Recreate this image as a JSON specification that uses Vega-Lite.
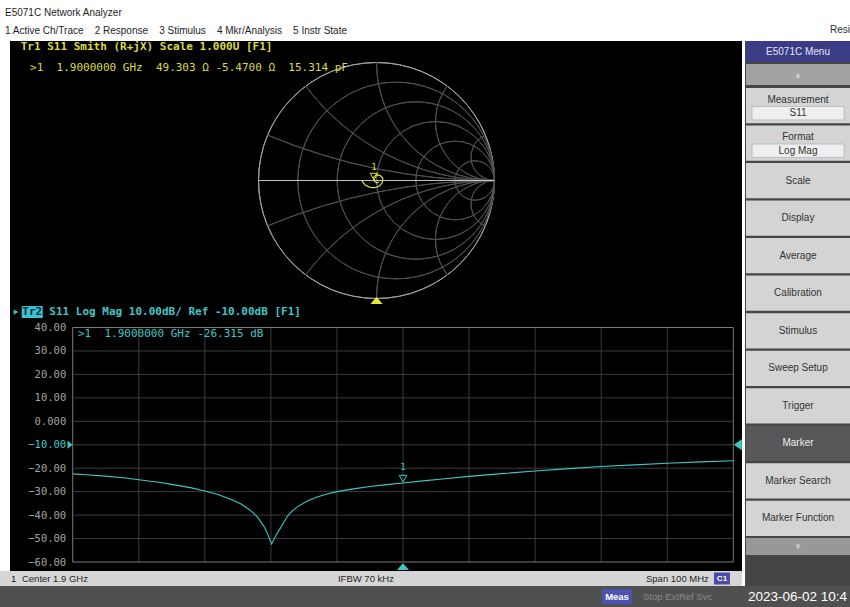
{
  "$schema": "https://vega.github.io/schema/vega-lite/v6.json",
  "width": 732,
  "height": 530,
  "autosize": {"type": "none"},
  "padding": {"left": 10, "top": 41, "right": 108, "bottom": 36},
  "background": "#ffffff",
  "config": {"view": {"fill": "#000000", "stroke": null}, "text": {"font": "DejaVu Sans Mono"}},
  "title": {
    "text": "E5071C Network Analyzer",
    "subtitle": "1 Active Ch/Trace\u00a0\u00a0\u00a0 2 Response\u00a0\u00a0\u00a0 3 Stimulus\u00a0\u00a0\u00a0 4 Mkr/Analysis\u00a0\u00a0\u00a0 5 Instr State",
    "anchor": "start",
    "frame": "group",
    "dx": -5,
    "dy": 17,
    "offset": 6,
    "font": "Liberation Sans",
    "fontSize": 10,
    "fontWeight": "normal",
    "color": "#1e1e1e",
    "subtitleFont": "Liberation Sans",
    "subtitleFontSize": 10,
    "subtitleColor": "#1e1e1e",
    "subtitlePadding": 8
  },
  "datasets": {
    "s11LogMag": [
      {"f": 1.850, "db": -22.4}, {"f": 1.852, "db": -22.8}, {"f": 1.855, "db": -23.4}, {"f": 1.858, "db": -24.2},
      {"f": 1.860, "db": -24.9}, {"f": 1.863, "db": -26.0}, {"f": 1.865, "db": -26.9}, {"f": 1.868, "db": -28.4},
      {"f": 1.870, "db": -29.7}, {"f": 1.872, "db": -31.2}, {"f": 1.874, "db": -33.3}, {"f": 1.8755, "db": -35.3},
      {"f": 1.877, "db": -38.2}, {"f": 1.878, "db": -41.0}, {"f": 1.879, "db": -45.0}, {"f": 1.8795, "db": -48.0},
      {"f": 1.8801, "db": -52.3}, {"f": 1.8807, "db": -49.0}, {"f": 1.8813, "db": -46.2}, {"f": 1.882, "db": -42.8},
      {"f": 1.8825, "db": -40.5}, {"f": 1.8832, "db": -38.3}, {"f": 1.884, "db": -36.5}, {"f": 1.8855, "db": -34.0},
      {"f": 1.887, "db": -32.3}, {"f": 1.8885, "db": -31.0}, {"f": 1.890, "db": -30.0}, {"f": 1.8925, "db": -28.8},
      {"f": 1.895, "db": -27.8}, {"f": 1.8975, "db": -27.0}, {"f": 1.900, "db": -26.3}, {"f": 1.903, "db": -25.4},
      {"f": 1.906, "db": -24.6}, {"f": 1.910, "db": -23.5}, {"f": 1.915, "db": -22.3}, {"f": 1.920, "db": -21.2},
      {"f": 1.925, "db": -20.2}, {"f": 1.930, "db": -19.3}, {"f": 1.935, "db": -18.6}, {"f": 1.940, "db": -17.9},
      {"f": 1.945, "db": -17.3}, {"f": 1.950, "db": -16.8}
    ],
    "freqDivisions": [
      {"f": 1.85}, {"f": 1.86}, {"f": 1.87}, {"f": 1.88}, {"f": 1.89}, {"f": 1.90},
      {"f": 1.91}, {"f": 1.92}, {"f": 1.93}, {"f": 1.94}, {"f": 1.95}
    ],
    "dbDivisions": [
      {"db": 40}, {"db": 30}, {"db": 20}, {"db": 10}, {"db": 0}, {"db": -10},
      {"db": -20}, {"db": -30}, {"db": -40}, {"db": -50}, {"db": -60}
    ],
    "marker1": [{"marker": "1", "f": 1.9, "db": -26.315, "gx": -0.021, "gy": -0.004}],
    "refLevel": [{"db": -10}],
    "trace2": [{"trace": "Tr2", "title": "S11 Log Mag 10.00dB/ Ref -10.00dB [F1]", "readout": ">1\u00a0\u00a01.9000000 GHz -26.315 dB"}],
    "trace1": [{"title": "Tr1 S11 Smith (R+jX) Scale 1.000U [F1]", "readout": ">1\u00a0\u00a01.9000000 GHz\u00a0\u00a049.303 \u03a9 -5.4700 \u03a9\u00a0\u00a015.314 pF"}],
    "smithGrid": [
      {"curve": "boundary", "value": 0, "cx": 0, "cy": 0, "r": 1, "t0": 0, "t1": 360},
      {"curve": "resistance", "value": 0.2, "cx": 0.16667, "cy": 0, "r": 0.83333, "t0": 0, "t1": 360},
      {"curve": "resistance", "value": 0.5, "cx": 0.33333, "cy": 0, "r": 0.66667, "t0": 0, "t1": 360},
      {"curve": "resistance", "value": 1, "cx": 0.5, "cy": 0, "r": 0.5, "t0": 0, "t1": 360},
      {"curve": "resistance", "value": 2, "cx": 0.66667, "cy": 0, "r": 0.33333, "t0": 0, "t1": 360},
      {"curve": "resistance", "value": 5, "cx": 0.83333, "cy": 0, "r": 0.16667, "t0": 0, "t1": 360},
      {"curve": "reactance", "value": 0.2, "cx": 1, "cy": 5, "r": 5, "t0": 180, "t1": 202.62},
      {"curve": "reactance", "value": 0.5, "cx": 1, "cy": 2, "r": 2, "t0": 180, "t1": 233.13},
      {"curve": "reactance", "value": 1, "cx": 1, "cy": 1, "r": 1, "t0": 180, "t1": 270},
      {"curve": "reactance", "value": 2, "cx": 1, "cy": 0.5, "r": 0.5, "t0": 180, "t1": 306.87},
      {"curve": "reactance", "value": 5, "cx": 1, "cy": 0.2, "r": 0.2, "t0": 180, "t1": 337.38},
      {"curve": "reactance", "value": -0.2, "cx": 1, "cy": -5, "r": 5, "t0": 337.38, "t1": 360},
      {"curve": "reactance", "value": -0.5, "cx": 1, "cy": -2, "r": 2, "t0": 306.87, "t1": 360},
      {"curve": "reactance", "value": -1, "cx": 1, "cy": -1, "r": 1, "t0": 270, "t1": 360},
      {"curve": "reactance", "value": -2, "cx": 1, "cy": -0.5, "r": 0.5, "t0": 233.13, "t1": 360},
      {"curve": "reactance", "value": -5, "cx": 1, "cy": -0.2, "r": 0.2, "t0": 202.62, "t1": 360}
    ],
    "smithTrace": [
      {"f": 1.850, "gx": 0.021, "gy": -0.013},
      {"f": 1.870, "gx": 0.002, "gy": -0.019},
      {"f": 1.900, "gx": -0.021, "gy": -0.004},
      {"f": 1.905, "gx": -0.027, "gy": 0.024},
      {"f": 1.910, "gx": -0.004, "gy": 0.047},
      {"f": 1.915, "gx": 0.030, "gy": 0.044},
      {"f": 1.920, "gx": 0.053, "gy": 0.019},
      {"f": 1.925, "gx": 0.049, "gy": -0.019},
      {"f": 1.930, "gx": 0.024, "gy": -0.047},
      {"f": 1.935, "gx": -0.013, "gy": -0.061},
      {"f": 1.940, "gx": -0.055, "gy": -0.058},
      {"f": 1.945, "gx": -0.097, "gy": -0.038},
      {"f": 1.950, "gx": -0.125, "gy": -0.002}
    ],
    "menuButtons": [
      {"button": "Measurement", "setting": "S11"},
      {"button": "Format", "setting": "Log Mag"},
      {"button": "Scale"},
      {"button": "Display"},
      {"button": "Average"},
      {"button": "Calibration"},
      {"button": "Stimulus"},
      {"button": "Sweep Setup"},
      {"button": "Trigger"},
      {"button": "Marker"},
      {"button": "Marker Search"},
      {"button": "Marker Function"}
    ]
  },
  "layer": [
    {
      "layer": [
        {
          "data": {"name": "freqDivisions"},
          "mark": {"type": "rule", "strokeWidth": 1},
          "encoding": {
            "x": {"field": "f", "type": "quantitative", "scale": {"domain": [1.85, 1.95], "range": [62.7, 723.3], "nice": false, "zero": false}, "axis": null},
            "y": {"datum": -60, "type": "quantitative", "scale": {"domain": [-60, 40], "range": [521, 286.5], "nice": false, "zero": false}},
            "y2": {"datum": 40},
            "color": {"condition": {"test": "datum.f == 1.85 || datum.f == 1.95", "value": "#7a7a7a"}, "value": "#3c3c3c"}
          }
        },
        {
          "data": {"name": "dbDivisions"},
          "mark": {"type": "rule", "strokeWidth": 1},
          "encoding": {
            "y": {
              "field": "db", "type": "quantitative",
              "scale": {"domain": [-60, 40], "range": [521, 286.5], "nice": false, "zero": false},
              "axis": {
                "orient": "left", "offset": -62.7, "title": null,
                "values": [40, 30, 20, 10, 0, -10, -20, -30, -40, -50, -60],
                "labelExpr": "datum.value == 0 ? '0.000' : format(datum.value, '.2f')",
                "labelFont": "DejaVu Sans Mono", "labelFontSize": 10.5,
                "labelColor": {"condition": {"test": "datum.value == -10", "value": "#3cc8c8"}, "value": "#a4a4a4"},
                "labelPadding": 7, "ticks": false, "domain": false, "grid": false,
                "labelBound": false, "labelOverlap": false, "labelFlush": false
              }
            },
            "x": {"datum": 1.85, "type": "quantitative", "scale": {"domain": [1.85, 1.95], "range": [62.7, 723.3], "nice": false, "zero": false}},
            "x2": {"datum": 1.95},
            "color": {"condition": {"test": "datum.db == 40 || datum.db == -60", "value": "#7a7a7a"}, "value": "#3c3c3c"}
          }
        },
        {
          "data": {"name": "s11LogMag"},
          "mark": {"type": "line", "color": "#3cc8c8", "strokeWidth": 1.1},
          "encoding": {
            "x": {"field": "f", "type": "quantitative", "scale": {"domain": [1.85, 1.95], "range": [62.7, 723.3], "nice": false, "zero": false}},
            "y": {"field": "db", "type": "quantitative", "scale": {"domain": [-60, 40], "range": [521, 286.5], "nice": false, "zero": false}}
          }
        },
        {
          "data": {"name": "marker1"},
          "mark": {"type": "point", "shape": "M0,-0.15L-0.55,-1.1L0.55,-1.1Z", "size": 196, "filled": false, "stroke": "#3cc8c8", "strokeWidth": 1, "opacity": 1},
          "encoding": {
            "x": {"field": "f", "type": "quantitative"},
            "y": {"field": "db", "type": "quantitative"}
          }
        },
        {
          "data": {"name": "marker1"},
          "mark": {"type": "text", "dy": -16, "color": "#3cc8c8", "fontSize": 9, "font": "DejaVu Sans Mono"},
          "encoding": {
            "x": {"field": "f", "type": "quantitative"},
            "y": {"field": "db", "type": "quantitative"},
            "text": {"field": "marker"}
          }
        },
        {
          "data": {"name": "marker1"},
          "mark": {"type": "point", "shape": "M0,0.2L-1,1.35L1,1.35Z", "size": 144, "filled": true, "fill": "#3cc8c8", "stroke": null, "opacity": 1},
          "encoding": {
            "x": {"field": "f", "type": "quantitative"},
            "y": {"datum": -60, "type": "quantitative"}
          }
        },
        {
          "data": {"name": "refLevel"},
          "mark": {"type": "point", "shape": "M0,0L-1.3,-1L-1.3,1Z", "size": 64, "filled": true, "fill": "#3cc8c8", "stroke": null, "opacity": 1},
          "encoding": {
            "x": {"datum": 1.85, "type": "quantitative"},
            "y": {"field": "db", "type": "quantitative"}
          }
        },
        {
          "data": {"name": "refLevel"},
          "mark": {"type": "point", "shape": "M0.1,0L1.7,-1.1L1.7,1.1Z", "size": 100, "filled": true, "fill": "#3cc8c8", "stroke": null, "opacity": 1},
          "encoding": {
            "x": {"datum": 1.95, "type": "quantitative"},
            "y": {"field": "db", "type": "quantitative"}
          }
        },
        {
          "data": {"name": "trace2"},
          "mark": {"type": "point", "shape": "triangle-right", "size": 28, "filled": true, "fill": "#3cc8c8", "stroke": null, "opacity": 1},
          "encoding": {
            "x": {"datum": 1.84141, "type": "quantitative"},
            "y": {"datum": 46.6, "type": "quantitative"}
          }
        },
        {
          "data": {"name": "trace2"},
          "mark": {"type": "point", "shape": "M-1,-0.57H1V0.57H-1Z", "size": 441, "filled": true, "fill": "#36c6d6", "stroke": null, "opacity": 1},
          "encoding": {
            "x": {"datum": 1.84387, "type": "quantitative"},
            "y": {"datum": 46.6, "type": "quantitative"}
          }
        },
        {
          "data": {"name": "trace2"},
          "mark": {"type": "text", "color": "#04282c", "fontSize": 11, "fontWeight": "bold", "font": "DejaVu Sans Mono"},
          "encoding": {
            "x": {"datum": 1.84387, "type": "quantitative"},
            "y": {"datum": 46.6, "type": "quantitative"},
            "text": {"field": "trace"}
          }
        },
        {
          "data": {"name": "trace2"},
          "mark": {"type": "text", "align": "left", "color": "#3cc8c8", "fontSize": 11, "fontWeight": "bold", "font": "DejaVu Sans Mono"},
          "encoding": {
            "x": {"datum": 1.84646, "type": "quantitative"},
            "y": {"datum": 46.6, "type": "quantitative"},
            "text": {"field": "title"}
          }
        },
        {
          "data": {"name": "trace2"},
          "mark": {"type": "text", "align": "left", "color": "#3cc8c8", "fontSize": 11, "font": "DejaVu Sans Mono"},
          "encoding": {
            "x": {"datum": 1.8508, "type": "quantitative"},
            "y": {"datum": 37.2, "type": "quantitative"},
            "text": {"field": "readout"}
          }
        }
      ]
    },
    {
      "layer": [
        {
          "data": {"name": "smithGrid"},
          "mark": {"type": "arc", "filled": false, "strokeWidth": 1},
          "encoding": {
            "x": {"field": "cx", "type": "quantitative", "scale": {"domain": [-1, 1], "range": [248.5, 484.5], "nice": false, "zero": false}, "axis": null},
            "y": {"field": "cy", "type": "quantitative", "scale": {"domain": [-1, 1], "range": [257.5, 21.5], "nice": false, "zero": false}, "axis": null},
            "theta": {"field": "t0", "type": "quantitative", "stack": null, "scale": {"type": "linear", "domain": [0, 360], "range": [0, 6.283185307179586]}},
            "theta2": {"field": "t1"},
            "radius": {"field": "r", "type": "quantitative", "scale": {"type": "linear", "domain": [0, 1], "range": [0, 118], "zero": true}},
            "radius2": {"field": "r"},
            "color": {"condition": {"test": "datum.curve == 'boundary'", "value": "#a2a2a2"}, "value": "#505050"}
          }
        },
        {
          "data": {"values": [{}]},
          "mark": {"type": "rule", "color": "#c4c4c4", "strokeWidth": 1},
          "encoding": {
            "x": {"datum": -1, "type": "quantitative"},
            "x2": {"datum": 1},
            "y": {"datum": 0, "type": "quantitative"}
          }
        },
        {
          "data": {"name": "smithTrace"},
          "mark": {"type": "line", "color": "#dcdc3c", "strokeWidth": 1.2},
          "encoding": {
            "x": {"field": "gx", "type": "quantitative"},
            "y": {"field": "gy", "type": "quantitative"},
            "order": {"field": "f"}
          }
        },
        {
          "data": {"name": "marker1"},
          "mark": {"type": "point", "shape": "M0,-0.15L-0.55,-1.1L0.55,-1.1Z", "size": 196, "filled": false, "stroke": "#dcdc3c", "strokeWidth": 1, "opacity": 1},
          "encoding": {
            "x": {"field": "gx", "type": "quantitative"},
            "y": {"field": "gy", "type": "quantitative"}
          }
        },
        {
          "data": {"name": "marker1"},
          "mark": {"type": "text", "dy": -14, "color": "#dcdc3c", "fontSize": 9, "font": "DejaVu Sans Mono"},
          "encoding": {
            "x": {"field": "gx", "type": "quantitative"},
            "y": {"field": "gy", "type": "quantitative"},
            "text": {"field": "marker"}
          }
        },
        {
          "data": {"name": "marker1"},
          "mark": {"type": "point", "shape": "M0,-0.3L-1,0.9L1,0.9Z", "size": 144, "filled": true, "fill": "#e6e63a", "stroke": null, "opacity": 1},
          "encoding": {
            "x": {"datum": 0, "type": "quantitative"},
            "y": {"datum": -1, "type": "quantitative"}
          }
        },
        {
          "data": {"name": "trace1"},
          "mark": {"type": "text", "align": "left", "color": "#dcdc3c", "fontSize": 11, "fontWeight": "bold", "font": "DejaVu Sans Mono"},
          "encoding": {
            "x": {"datum": -3.015, "type": "quantitative"},
            "y": {"datum": 1.131, "type": "quantitative"},
            "text": {"field": "title"}
          }
        },
        {
          "data": {"name": "trace1"},
          "mark": {"type": "text", "align": "left", "color": "#dcdc3c", "fontSize": 11, "font": "DejaVu Sans Mono"},
          "encoding": {
            "x": {"datum": -2.936, "type": "quantitative"},
            "y": {"datum": 0.953, "type": "quantitative"},
            "text": {"field": "readout"}
          }
        }
      ]
    },
    {
      "data": {"values": [{}]},
      "mark": {"type": "rect", "fill": "#454545"},
      "encoding": {
        "x": {"datum": "menu", "type": "nominal", "scale": {"type": "band", "domain": ["menu"], "range": [735, 840], "paddingInner": 0, "paddingOuter": 0}, "axis": null},
        "y": {"datum": "menu", "type": "nominal", "scale": {"type": "band", "domain": ["menu"], "range": [0, 545], "paddingInner": 0, "paddingOuter": 0}, "axis": null}
      }
    },
    {
      "data": {"values": [{"menu": "E5071C Menu", "window": "Resi"}]},
      "layer": [
        {
          "mark": {"type": "rect", "fill": "#3c3c86"},
          "encoding": {
            "x": {"field": "menu", "type": "nominal", "scale": {"type": "band", "range": [736, 840], "paddingInner": 0, "paddingOuter": 0}, "axis": null},
            "y": {"field": "menu", "type": "nominal", "scale": {"type": "band", "range": [0, 21], "paddingInner": 0, "paddingOuter": 0}, "axis": null}
          }
        },
        {
          "mark": {"type": "text", "color": "#e4e4ff", "font": "Liberation Sans", "fontSize": 10},
          "encoding": {
            "x": {"field": "menu", "type": "nominal"},
            "y": {"field": "menu", "type": "nominal"},
            "text": {"field": "menu"}
          }
        },
        {
          "mark": {"type": "text", "align": "right", "dy": -22, "color": "#303030", "font": "Liberation Sans", "fontSize": 10},
          "encoding": {
            "x": {"field": "menu", "type": "nominal", "bandPosition": 1},
            "y": {"field": "menu", "type": "nominal"},
            "text": {"field": "window"}
          }
        }
      ]
    },
    {
      "data": {"values": [{"arrow": "\u25b2"}]},
      "layer": [
        {
          "mark": {"type": "rect", "fill": "#a2a2a2"},
          "encoding": {
            "x": {"datum": "menu", "type": "nominal", "scale": {"type": "band", "domain": ["menu"], "range": [736, 840], "paddingInner": 0, "paddingOuter": 0}, "axis": null},
            "y": {"field": "arrow", "type": "nominal", "scale": {"type": "band", "range": [23, 44], "paddingInner": 0, "paddingOuter": 0}, "axis": null}
          }
        },
        {
          "mark": {"type": "text", "color": "#cdcdcd", "font": "DejaVu Sans", "fontSize": 7},
          "encoding": {
            "x": {"datum": "menu", "type": "nominal"},
            "y": {"field": "arrow", "type": "nominal"},
            "text": {"field": "arrow"}
          }
        }
      ]
    },
    {
      "data": {"name": "menuButtons"},
      "layer": [
        {
          "mark": {"type": "rect"},
          "encoding": {
            "x": {"datum": "menu", "type": "nominal", "scale": {"type": "band", "domain": ["menu"], "range": [736, 840], "paddingInner": 0, "paddingOuter": 0}, "axis": null},
            "y": {"field": "button", "type": "nominal", "scale": {"type": "band", "domain": ["Measurement", "Format", "Scale", "Display", "Average", "Calibration", "Stimulus", "Sweep Setup", "Trigger", "Marker", "Marker Search", "Marker Function"], "range": [47, 495], "paddingInner": 0.06, "paddingOuter": 0}, "axis": null},
            "color": {"condition": {"test": "datum.button == 'Marker'", "value": "#575757"}, "value": "#d4d4d4"}
          }
        },
        {
          "transform": [{"filter": "isValid(datum.setting)"}],
          "mark": {"type": "point", "shape": "M-1,0.02H1V0.31H-1Z", "size": 8464, "filled": true, "fill": "#efefef", "stroke": "#a6a6a6", "strokeWidth": 0.6, "opacity": 1},
          "encoding": {
            "x": {"datum": "menu", "type": "nominal"},
            "y": {"field": "button", "type": "nominal"}
          }
        },
        {
          "transform": [{"filter": "isValid(datum.setting)"}],
          "mark": {"type": "text", "dy": -6, "font": "Liberation Sans", "fontSize": 10, "color": "#333333"},
          "encoding": {
            "x": {"datum": "menu", "type": "nominal"},
            "y": {"field": "button", "type": "nominal"},
            "text": {"field": "button"}
          }
        },
        {
          "transform": [{"filter": "isValid(datum.setting)"}],
          "mark": {"type": "text", "dy": 7.5, "font": "Liberation Sans", "fontSize": 10, "color": "#333333"},
          "encoding": {
            "x": {"datum": "menu", "type": "nominal"},
            "y": {"field": "button", "type": "nominal"},
            "text": {"field": "setting"}
          }
        },
        {
          "transform": [{"filter": "!isValid(datum.setting)"}],
          "mark": {"type": "text", "font": "Liberation Sans", "fontSize": 10},
          "encoding": {
            "x": {"datum": "menu", "type": "nominal"},
            "y": {"field": "button", "type": "nominal"},
            "text": {"field": "button"},
            "color": {"condition": {"test": "datum.button == 'Marker'", "value": "#eeeeee"}, "value": "#333333"}
          }
        }
      ]
    },
    {
      "data": {"values": [{"arrow": "\u25bc"}]},
      "layer": [
        {
          "mark": {"type": "rect", "fill": "#989898"},
          "encoding": {
            "x": {"datum": "menu", "type": "nominal", "scale": {"type": "band", "domain": ["menu"], "range": [736, 840], "paddingInner": 0, "paddingOuter": 0}, "axis": null},
            "y": {"field": "arrow", "type": "nominal", "scale": {"type": "band", "range": [497, 514], "paddingInner": 0, "paddingOuter": 0}, "axis": null}
          }
        },
        {
          "mark": {"type": "text", "color": "#c4c4c4", "font": "DejaVu Sans", "fontSize": 7},
          "encoding": {
            "x": {"datum": "menu", "type": "nominal"},
            "y": {"field": "arrow", "type": "nominal"},
            "text": {"field": "arrow"}
          }
        }
      ]
    },
    {
      "layer": [
        {
          "data": {"values": [{}]},
          "mark": {"type": "rect", "fill": "#d6d6d6"},
          "encoding": {
            "x": {"datum": "status", "type": "nominal", "scale": {"type": "band", "domain": ["status"], "range": [-10, 732], "paddingInner": 0, "paddingOuter": 0}, "axis": null},
            "y": {"datum": "status", "type": "nominal", "scale": {"type": "band", "domain": ["status"], "range": [530, 545], "paddingInner": 0, "paddingOuter": 0}, "axis": null}
          }
        },
        {
          "data": {"values": [{"label": "1"}]},
          "mark": {"type": "text", "align": "left", "font": "Liberation Sans", "fontSize": 9.5, "color": "#1e1e1e"},
          "encoding": {
            "x": {"datum": "status", "type": "nominal", "bandPosition": 0.0148},
            "y": {"datum": "status", "type": "nominal"},
            "text": {"field": "label"}
          }
        },
        {
          "data": {"values": [{"label": "Center 1.9 GHz"}]},
          "mark": {"type": "text", "align": "left", "font": "Liberation Sans", "fontSize": 9.5, "color": "#1e1e1e"},
          "encoding": {
            "x": {"datum": "status", "type": "nominal", "bandPosition": 0.0296},
            "y": {"datum": "status", "type": "nominal"},
            "text": {"field": "label"}
          }
        },
        {
          "data": {"values": [{"label": "IFBW 70 kHz"}]},
          "mark": {"type": "text", "align": "left", "font": "Liberation Sans", "fontSize": 9.5, "color": "#1e1e1e"},
          "encoding": {
            "x": {"datum": "status", "type": "nominal", "bandPosition": 0.4555},
            "y": {"datum": "status", "type": "nominal"},
            "text": {"field": "label"}
          }
        },
        {
          "data": {"values": [{"label": "Span 100 MHz"}]},
          "mark": {"type": "text", "align": "left", "font": "Liberation Sans", "fontSize": 9.5, "color": "#1e1e1e"},
          "encoding": {
            "x": {"datum": "status", "type": "nominal", "bandPosition": 0.8706},
            "y": {"datum": "status", "type": "nominal"},
            "text": {"field": "label"}
          }
        },
        {
          "data": {"values": [{"label": "C1"}]},
          "mark": {"type": "point", "shape": "M-1,-0.75H1V0.75H-1Z", "size": 256, "filled": true, "fill": "#4a4aa8", "stroke": null, "opacity": 1},
          "encoding": {
            "x": {"datum": "status", "type": "nominal", "bandPosition": 0.973},
            "y": {"datum": "status", "type": "nominal"}
          }
        },
        {
          "data": {"values": [{"label": "C1"}]},
          "mark": {"type": "text", "font": "Liberation Sans", "fontSize": 8, "fontWeight": "bold", "color": "#ffffff"},
          "encoding": {
            "x": {"datum": "status", "type": "nominal", "bandPosition": 0.973},
            "y": {"datum": "status", "type": "nominal"},
            "text": {"field": "label"}
          }
        }
      ]
    },
    {
      "layer": [
        {
          "data": {"values": [{}]},
          "mark": {"type": "rect", "fill": "#505050"},
          "encoding": {
            "x": {"datum": "taskbar", "type": "nominal", "scale": {"type": "band", "domain": ["taskbar"], "range": [-10, 840], "paddingInner": 0, "paddingOuter": 0}, "axis": null},
            "y": {"datum": "taskbar", "type": "nominal", "scale": {"type": "band", "domain": ["taskbar"], "range": [545, 566], "paddingInner": 0, "paddingOuter": 0}, "axis": null}
          }
        },
        {
          "data": {"values": [{"label": "Meas"}]},
          "mark": {"type": "point", "shape": "M-1,-0.5H1V0.5H-1Z", "size": 900, "filled": true, "fill": "#4b52b2", "stroke": null, "opacity": 1},
          "encoding": {
            "x": {"datum": "taskbar", "type": "nominal", "bandPosition": 0.7259},
            "y": {"datum": "taskbar", "type": "nominal"}
          }
        },
        {
          "data": {"values": [{"label": "Meas"}]},
          "mark": {"type": "text", "font": "Liberation Sans", "fontSize": 9.5, "fontWeight": "bold", "color": "#ffffff"},
          "encoding": {
            "x": {"datum": "taskbar", "type": "nominal", "bandPosition": 0.7259},
            "y": {"datum": "taskbar", "type": "nominal"},
            "text": {"field": "label"}
          }
        },
        {
          "data": {"values": [{"label": "Stop ExtRef Svc"}]},
          "mark": {"type": "text", "align": "left", "font": "Liberation Sans", "fontSize": 9.5, "color": "#8a8a8a"},
          "encoding": {
            "x": {"datum": "taskbar", "type": "nominal", "bandPosition": 0.7565},
            "y": {"datum": "taskbar", "type": "nominal"},
            "text": {"field": "label"}
          }
        },
        {
          "data": {"values": [{"label": "2023-06-02 10:4"}]},
          "mark": {"type": "text", "align": "left", "font": "Liberation Sans", "fontSize": 13.5, "color": "#ffffff"},
          "encoding": {
            "x": {"datum": "taskbar", "type": "nominal", "bandPosition": 0.8800},
            "y": {"datum": "taskbar", "type": "nominal"},
            "text": {"field": "label"}
          }
        }
      ]
    }
  ],
  "resolve": {"scale": {"x": "independent", "y": "independent"}, "axis": {"x": "independent", "y": "independent"}}
}
